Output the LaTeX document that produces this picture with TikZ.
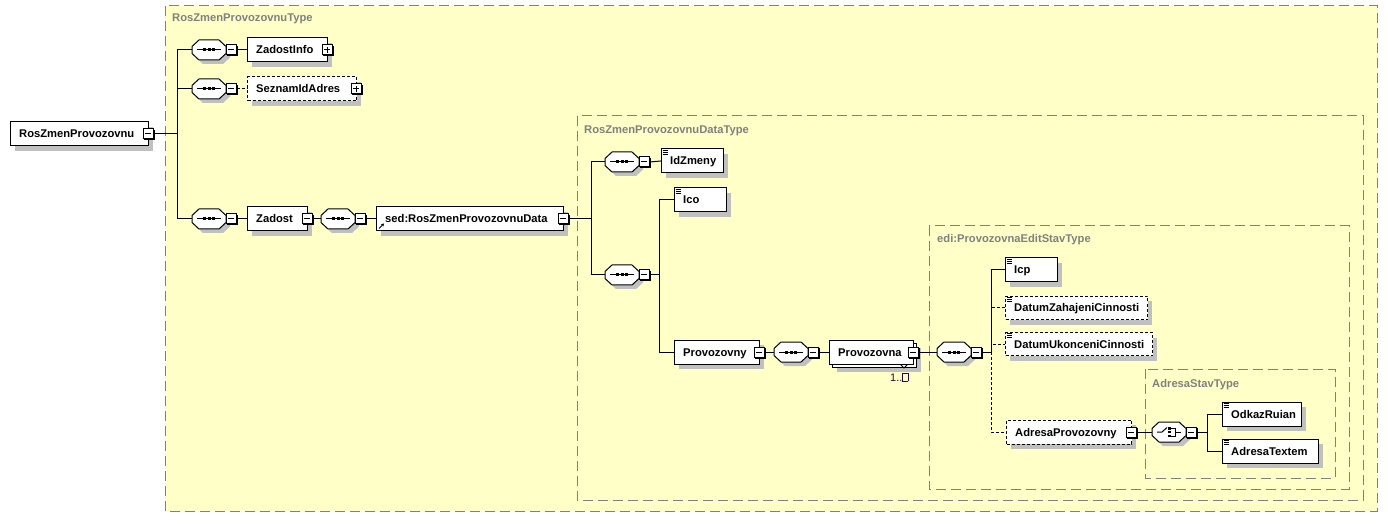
\documentclass[tikz,border=0pt]{standalone}
\usepackage{fontspec}
\setmainfont{Liberation Sans}
\usetikzlibrary{calc,arrows.meta}
\definecolor{typefill}{HTML}{FFFFC8}
\definecolor{typeline}{HTML}{808080}
\definecolor{shad}{HTML}{C0C0C0}
\definecolor{occ}{HTML}{400040}
\tikzset{
  typebox/.style={draw=typeline, fill=typefill, dash pattern=on 10pt off 5pt, line width=1pt},
  typelabel/.style={anchor=base west, text=typeline, font=\fontsize{11.2}{13}\selectfont\bfseries, inner sep=0},
  elbox/.style={draw, fill=white, line width=1pt, inner sep=0, anchor=west},
  eltext/.style={anchor=base west, inner sep=0, font=\fontsize{11.2}{13}\selectfont\bfseries},
  btn/.style={draw, fill=white, line width=1pt, minimum size=10pt, inner sep=0, shape=rectangle},
  conn/.style={line width=1pt},
  optconn/.style={line width=1pt, dash pattern=on 3pt off 2pt},
  optbox/.style={dash pattern=on 3pt off 2pt},
}
% element box without shadow: name, x1, x2, yc, text, style, height
\newcommand\xbox[7]{%
  \pgfmathsetmacro\xw{#3-#2}%
  \node[elbox,#6,minimum width=\xw pt,minimum height=#7 pt] (#1) at (#2,#4) {};
  \node[eltext] (#1-t) at (#2+9,#4+4) {#5};
}
\newcommand\xelem[7]{%
  \fill[shad] (#2+5,#4-#7/2+5) rectangle (#3+5,#4+#7/2+5);
  \xbox{#1}{#2}{#3}{#4}{#5}{#6}{#7}
}
\newcommand\xminus[3]{%
  \fill (#2-4,#3-4) rectangle (#2+6.5,#3+6.5);
  \node[btn] (#1) at (#2,#3) {};
  \draw[line width=1pt] (#2-3,#3) -- (#2+3,#3);
}
\newcommand\xplus[3]{%
  \fill (#2-4,#3-4) rectangle (#2+6.5,#3+6.5);
  \node[btn] (#1) at (#2,#3) {};
  \draw[line width=1pt] (#2-3,#3) -- (#2+3,#3) (#2,#3-3) -- (#2,#3+3);
}
\newcommand\xsimp[1]{%
  \foreach \yy in {1.5,3.5,5.5}
    \draw[line width=0.9pt] ([xshift=1.5pt,yshift=-\yy pt]#1.north west) -- ++(5.5,0);
}
\newcommand\xoct[3]{%
  \path[#3] (#1-17,#2-3.5) -- (#1-10,#2-10) -- (#1+10,#2-10) -- (#1+17,#2-3.5)
    -- (#1+17,#2+3.5) -- (#1+10,#2+10) -- (#1-10,#2+10) -- (#1-17,#2+3.5) -- cycle;
}
\newcommand\xseq[3]{%
  \xoct{#2+4}{#3+4}{fill=shad}
  \xoct{#2}{#3}{draw,fill=white,line width=1pt}
  \node[inner sep=0,minimum width=34pt,minimum height=20pt] (#1) at (#2,#3) {};
  \draw[line width=1pt] (#2-12,#3) -- (#2+12,#3);
  \fill (#2-6,#3-1.5) rectangle (#2-3,#3+1.5);
  \fill (#2-1.5,#3-1.5) rectangle (#2+1.5,#3+1.5);
  \fill (#2+3,#3-1.5) rectangle (#2+6,#3+1.5);
  \xminus{#1-b}{#2+22}{#3}
}
\newcommand\xchoice[3]{%
  \xoct{#2+4}{#3+4}{fill=shad}
  \xoct{#2}{#3}{draw,fill=white,line width=1pt}
  \node[inner sep=0,minimum width=34pt,minimum height=20pt] (#1) at (#2,#3) {};
  \draw[line width=1pt] (#2-12,#3) -- (#2-7,#3) -- (#2-2,#3-4.5);
  \fill (#2-1,#3-5) rectangle (#2+2,#3-2.5);
  \fill (#2-1,#3-1.3) rectangle (#2+2,#3+1.3);
  \fill (#2-1,#3+2.5) rectangle (#2+2,#3+5);
  \draw[line width=1pt] (#2+2,#3-4) -- (#2+6,#3-4) -- (#2+6,#3+4) -- (#2+2,#3+4);
  \draw[line width=1pt] (#2+6,#3) -- (#2+12,#3);
  \xminus{#1-b}{#2+22}{#3}
}
\begin{document}
\begin{tikzpicture}[x=1pt,y=-1pt]
\useasboundingbox (0,0) rectangle (1388,526);
% type boxes
\path[typebox] (165,6) rectangle (1377,511);
\node[typelabel] (lt1) at (172,22) {RosZmenProvozovnuType};
\path[typebox] (577,116) rectangle (1363,500);
\node[typelabel] (lt2) at (584,134) {RosZmenProvozovnuDataType};
\path[typebox] (929,226) rectangle (1349,489);
\node[typelabel] (lt3) at (937,243) {edi:ProvozovnaEditStavType};
\path[typebox] (1145,369) rectangle (1335,478);
\node[typelabel] (lt4) at (1152,387) {AdresaStavType};

% root
\xelem{root}{10}{148}{134}{RosZmenProvozovnu}{}{24}
\xminus{root-b}{148}{134}
\coordinate (f1) at (177,134);

% level 1
\xseq{s1}{209}{50}
\xelem{zinfo}{247}{327}{50}{ZadostInfo}{}{24}
\xplus{zinfo-b}{327}{50}
\xseq{s2}{209}{89}
\xelem{sez}{247}{356}{89}{SeznamIdAdres}{optbox}{24}
\xplus{sez-b}{356}{89}
\xseq{s3}{209}{219}
\xelem{zad}{247}{307}{219}{Zadost}{}{24}
\xminus{zad-b}{307}{219}
\xseq{s4}{338}{219}
\xelem{sed}{376}{563}{219}{sed:RosZmenProvozovnuData}{}{24}
\xminus{sed-b}{563}{219}
\draw[line width=1pt,-{Stealth[length=3pt,width=3.5pt]}] ([xshift=3pt,yshift=3pt]sed.south west) -- ++(5,-5);
\coordinate (f2) at (591,219);

% data type
\xseq{s5}{622}{162}
\xelem{idz}{661}{723}{161}{IdZmeny}{}{24}
\xsimp{idz}
\xseq{s6}{622}{275}
\coordinate (f3) at (659,275);
\xelem{ico}{674}{726}{200}{Ico}{}{24}
\xsimp{ico}
\xelem{prov}{674}{759}{352}{Provozovny}{}{24}
\xminus{prov-b}{759}{352}
\xseq{s7}{791}{352}
% stacked Provozovna
\fill[shad] (837,348) rectangle (921,372);
\draw[fill=white,line width=1pt] (832,343) rectangle (916,367);
\draw[fill=white,line width=1pt] (900,364) -- (904,368) -- (908,364);
\xbox{pna}{829}{913}{352}{Provozovna}{}{24}
\xminus{pna-b}{913}{352}
\node[anchor=base west, inner sep=0, text=occ, font=\fontsize{11}{13}\selectfont] (occ) at (890,381)
  {1..\setlength\fboxrule{0.7pt}\setlength\fboxsep{0pt}\fbox{\rule{0pt}{7.5pt}\hspace{4.5pt}}};
\xseq{s8}{954}{352}
\coordinate (f4) at (991,352);

% edit type
\xelem{icp}{1005}{1057}{270}{Icp}{}{24}
\xsimp{icp}
\xelem{dz}{1005}{1147}{308}{DatumZahajeniCinnosti}{optbox}{23}
\xsimp{dz}
\xelem{du}{1005}{1152}{344}{DatumUkonceniCinnosti}{optbox}{23}
\xsimp{du}
\xelem{ap}{1006}{1131}{432}{AdresaProvozovny}{optbox}{24}
\xminus{ap-b}{1131}{432}
\xchoice{c1}{1169}{432}
\coordinate (f5) at (1207,432);
\xelem{od}{1222}{1301}{414}{OdkazRuian}{}{24}
\xsimp{od}
\xelem{at}{1222}{1318}{451}{AdresaTextem}{}{24}
\xsimp{at}

% connectors
\draw[conn] (root-b.east) -- (f1);
\draw[conn] (f1) |- (s1.west);
\draw[conn] (f1) |- (s2.west);
\draw[conn] (f1) |- (s3.west);
\draw[conn] (s1-b.east) -- (zinfo.west);
\draw[optconn] (s2-b.east) -- (sez.west);
\draw[conn] (s3-b.east) -- (zad.west);
\draw[conn] (zad-b.east) -- (s4.west);
\draw[conn] (s4-b.east) -- (sed.west);
\draw[conn] (sed-b.east) -- (f2);
\draw[conn] (f2) |- (s5.west);
\draw[conn] (f2) |- (s6.west);
\draw[conn] (s5-b.east) -- (idz.west);
\draw[conn] (s6-b.east) -- (f3);
\draw[conn] (f3) |- (ico.west);
\draw[conn] (f3) |- (prov.west);
\draw[conn] (prov-b.east) -- (s7.west);
\draw[conn] (s7-b.east) -- (pna.west);
\draw[conn] (pna-b.east) -- (s8.west);
\draw[conn] (s8-b.east) -- (f4);
\draw[conn] (f4) |- (icp.west);
\draw[optconn] (f4) |- (dz.west);
\draw[optconn] (f4) |- (du.west);
\draw[optconn] (f4) |- (ap.west);
\draw[conn] (ap-b.east) -- (c1.west);
\draw[conn] (c1-b.east) -- (f5);
\draw[conn] (f5) |- (od.west);
\draw[conn] (f5) |- (at.west);
\end{tikzpicture}
\end{document}
